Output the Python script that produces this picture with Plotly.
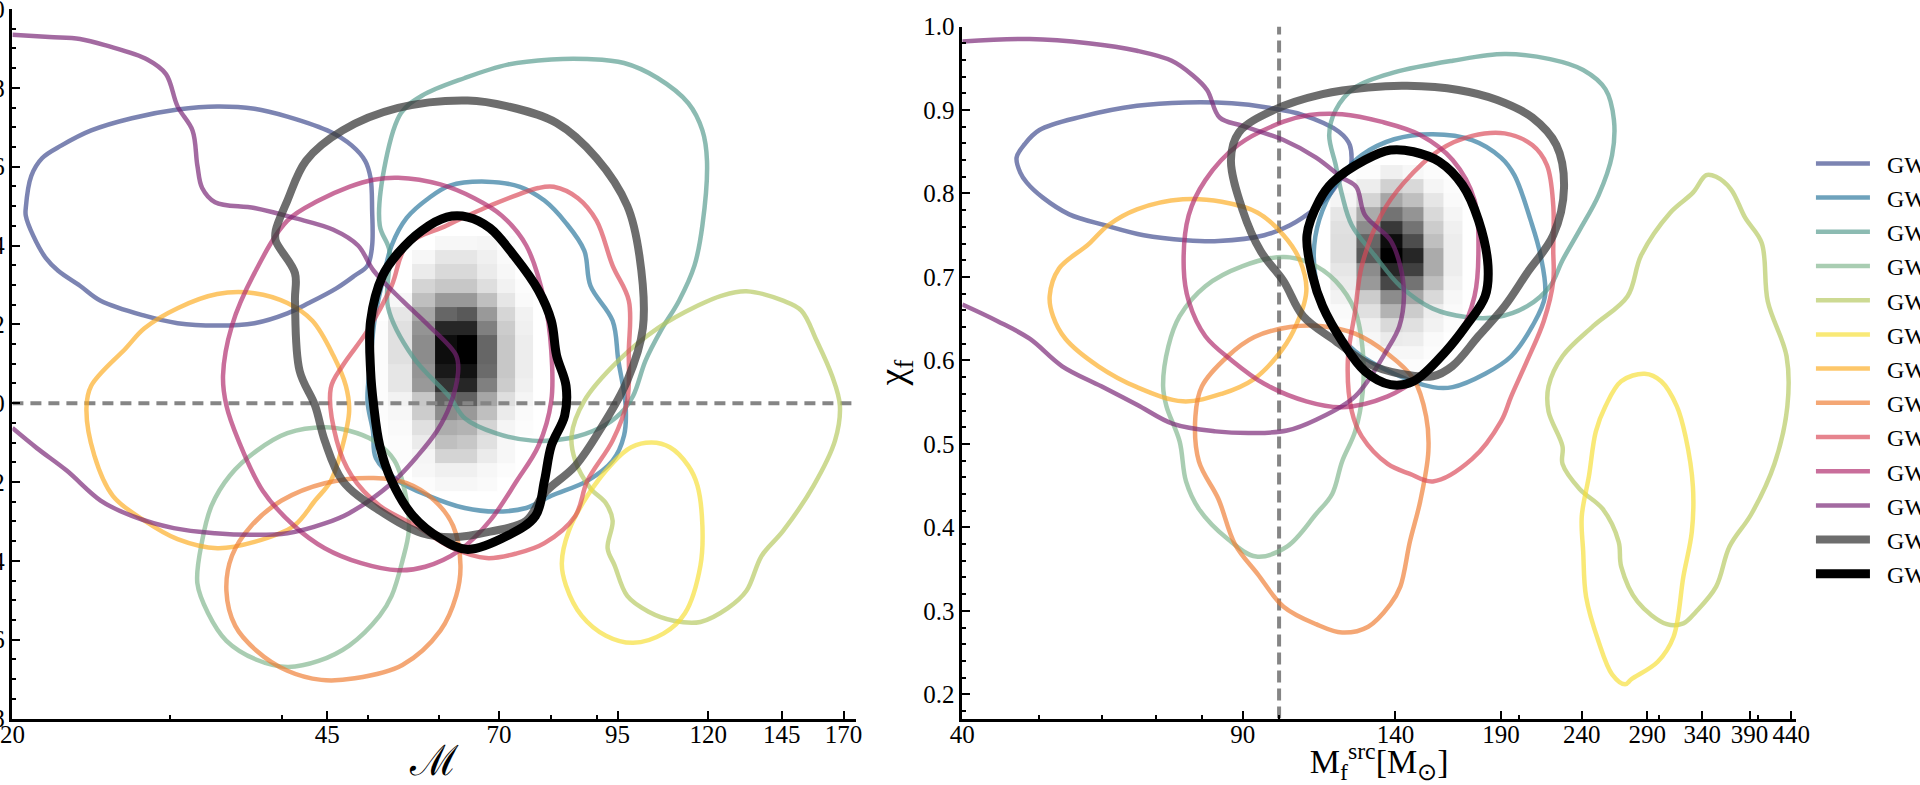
import plotly.graph_objects as go

# colours of the 13 events, same order in both panels
colores = ["#3e4a8e", "#2a769c", "#559b8e", "#80b58e", "#b6c960", "#f6de37", "#fcac23", "#ef7d33", "#da4a58", "#b02a6c", "#772374", "#3c3c3c", "#000000"]
anchos = [4.5, 4.5, 4.5, 4.5, 4.5, 4.5, 4.5, 4.5, 4.5, 4.5, 4.5, 8, 9]
alfas = [0.68, 0.68, 0.68, 0.68, 0.68, 0.68, 0.68, 0.68, 0.68, 0.68, 0.68, 0.75, 1]
nombres = ["\u00a0\u00a0GW"] * 13

# left panel: chirp mass / chi_eff contours
izq_x1 = [20.7, 21.0, 21.6, 22.7, 24.5, 27.2, 30.6, 33.9, 37.3, 40.6, 45.4, 47.9, 49.6, 50.3, 50.5, 50.5, 49.9, 48.3, 46.1, 42.9, 40.6, 37.3, 33.9, 30.6, 28.1, 25.1, 23.8, 22.5, 21.8, 21.1, 20.7]
izq_y1 = [0.495, 0.577, 0.622, 0.654, 0.692, 0.723, 0.745, 0.753, 0.747, 0.727, 0.688, 0.654, 0.615, 0.571, 0.489, 0.4, 0.349, 0.324, 0.292, 0.254, 0.228, 0.203, 0.197, 0.203, 0.222, 0.26, 0.298, 0.336, 0.368, 0.425, 0.476]
izq_x2 = [58.4, 61.7, 67.8, 73.9, 78.7, 83.2, 87.2, 88.6, 93.8, 95.2, 97.0, 96.6, 93.8, 87.9, 80.1, 75.1, 69.4, 64.1, 58.4, 54.0, 51.0, 50.6, 49.9, 50.3, 50.8, 51.9, 53.1, 55.2]
izq_y2 = [0.52, 0.552, 0.562, 0.549, 0.514, 0.457, 0.387, 0.298, 0.209, 0.108, -0.006, -0.082, -0.146, -0.197, -0.235, -0.266, -0.275, -0.266, -0.235, -0.197, -0.14, -0.07, 0.006, 0.108, 0.209, 0.311, 0.4, 0.47]
izq_x3 = [54.4, 57.4, 64.1, 71.6, 80.1, 87.9, 96.6, 105.3, 114.0, 118.2, 119.6, 118.2, 115.8, 111.3, 106.2, 102.1, 98.9, 95.8, 90.7, 83.8, 76.3, 69.4, 64.1, 61.7, 56.1, 52.6, 52.8, 51.5, 52.3]
izq_y3 = [0.736, 0.78, 0.825, 0.859, 0.872, 0.873, 0.863, 0.825, 0.761, 0.692, 0.615, 0.451, 0.349, 0.26, 0.184, 0.108, 0.019, -0.025, -0.063, -0.089, -0.095, -0.076, -0.038, 0.015, 0.117, 0.244, 0.387, 0.451, 0.615]
izq_x4 = [40.6, 44.7, 47.6, 50.7, 53.5, 55.2, 55.5, 54.6, 53.1, 51.5, 47.6, 44.0, 40.6, 37.5, 34.7, 33.1, 32.2, 32.6, 33.4, 35.0, 37.5]
izq_y4 = [-0.076, -0.061, -0.07, -0.095, -0.146, -0.247, -0.324, -0.4, -0.489, -0.539, -0.615, -0.654, -0.669, -0.651, -0.603, -0.533, -0.457, -0.349, -0.26, -0.184, -0.121]
izq_x5 = [132.4, 145.5, 152.5, 158.6, 165.0, 168.4, 166.3, 157.4, 145.5, 137.7, 132.4, 126.2, 117.6, 109.8, 102.9, 97.4, 94.3, 92.6, 93.8, 92.2, 88.6, 85.2, 84.4, 87.2, 95.2, 105.3, 116.7, 124.3]
izq_y5 = [0.284, 0.26, 0.235, 0.159, 0.07, -0.006, -0.095, -0.209, -0.324, -0.387, -0.476, -0.52, -0.555, -0.552, -0.529, -0.489, -0.412, -0.368, -0.298, -0.254, -0.216, -0.146, -0.082, 0.006, 0.108, 0.19, 0.247, 0.273]
izq_x6 = [103.7, 108.7, 114.0, 116.7, 118.2, 117.6, 113.0, 107.0, 98.9, 92.2, 86.6, 83.2, 82.3, 83.8, 87.9, 93.8, 98.4]
izq_y6 = [-0.1, -0.112, -0.159, -0.209, -0.311, -0.412, -0.533, -0.584, -0.608, -0.59, -0.539, -0.463, -0.406, -0.324, -0.235, -0.152, -0.112]
izq_x7 = [33.9, 37.3, 40.6, 43.3, 45.7, 47.2, 47.6, 46.8, 45.4, 43.6, 41.3, 37.3, 33.9, 30.6, 28.1, 25.9, 24.7, 24.2, 24.5, 26.8, 28.1, 30.6]
izq_y7 = [0.277, 0.279, 0.254, 0.209, 0.121, 0.044, -0.019, -0.108, -0.197, -0.247, -0.311, -0.352, -0.368, -0.345, -0.298, -0.235, -0.133, -0.013, 0.044, 0.14, 0.19, 0.241]
izq_x8 = [50.7, 55.2, 59.3, 62.2, 63.4, 62.7, 60.2, 54.6, 48.3, 44.3, 40.6, 37.5, 35.5, 34.7, 35.2, 37.0, 40.0, 44.7]
izq_y8 = [-0.19, -0.203, -0.247, -0.311, -0.412, -0.489, -0.577, -0.664, -0.698, -0.702, -0.679, -0.628, -0.565, -0.476, -0.387, -0.311, -0.247, -0.203]
izq_x9 = [80.6, 85.8, 90.0, 93.8, 97.8, 97.8, 97.4, 93.8, 87.9, 85.2, 78.7, 73.3, 67.8, 62.2, 56.5, 51.5, 47.9, 46.1, 45.4, 46.8, 49.9, 53.1, 55.2, 61.2, 68.4, 77.5]
izq_y9 = [0.549, 0.52, 0.463, 0.349, 0.26, 0.133, 0.006, -0.095, -0.197, -0.286, -0.355, -0.381, -0.393, -0.368, -0.311, -0.26, -0.184, -0.095, 0.038, 0.095, 0.184, 0.298, 0.4, 0.451, 0.501, 0.546]
izq_x10 = [54.0, 60.2, 65.7, 70.5, 75.1, 78.7, 80.1, 80.1, 77.5, 73.3, 68.4, 63.2, 57.9, 54.0, 49.1, 44.7, 41.3, 38.1, 35.8, 34.7, 34.4, 35.2, 37.3, 40.6, 44.0, 47.6, 50.7]
izq_y10 = [0.572, 0.555, 0.52, 0.476, 0.4, 0.26, 0.133, 0.006, -0.108, -0.197, -0.298, -0.374, -0.415, -0.424, -0.406, -0.368, -0.311, -0.222, -0.095, -0.006, 0.07, 0.197, 0.33, 0.463, 0.514, 0.549, 0.567]
izq_x11 = [20.0, 22.0, 23.8, 25.5, 28.3, 29.7, 30.6, 31.8, 32.2, 32.6, 33.7, 37.3, 41.3, 45.7, 48.7, 50.7, 54.6, 58.4, 62.7, 63.0, 61.7, 59.7, 56.8, 53.1, 47.6, 44.7, 40.6, 37.0, 33.7, 30.3, 27.2, 25.1, 23.0, 21.3, 20.0]
izq_y11 = [0.935, 0.929, 0.924, 0.907, 0.872, 0.835, 0.753, 0.692, 0.603, 0.546, 0.51, 0.495, 0.47, 0.44, 0.4, 0.336, 0.26, 0.197, 0.121, 0.076, -0.006, -0.07, -0.133, -0.203, -0.279, -0.305, -0.33, -0.334, -0.33, -0.317, -0.286, -0.247, -0.171, -0.114, -0.063]
izq_x12 = [64.6, 71.6, 81.2, 90.0, 97.4, 100.5, 101.4, 97.4, 91.4, 85.2, 78.7, 75.1, 68.4, 62.2, 57.4, 51.5, 46.8, 44.7, 43.6, 41.9, 41.4, 41.4, 39.4, 39.4, 40.6, 42.6, 46.8, 54.0]
izq_y12 = [0.768, 0.753, 0.711, 0.622, 0.501, 0.374, 0.19, 0.057, -0.057, -0.159, -0.228, -0.298, -0.326, -0.34, -0.33, -0.273, -0.197, -0.095, -0.006, 0.082, 0.26, 0.33, 0.412, 0.438, 0.514, 0.615, 0.692, 0.749]
izq_x13 = [61.2, 64.6, 68.4, 72.8, 77.5, 80.1, 81.2, 83.2, 82.9, 80.1, 78.7, 76.9, 71.6, 64.6, 60.2, 56.1, 53.1, 51.5, 50.7, 50.3, 50.3, 51.9, 54.0, 57.4]
izq_y13 = [0.472, 0.472, 0.444, 0.374, 0.286, 0.209, 0.121, 0.044, -0.032, -0.108, -0.197, -0.286, -0.336, -0.371, -0.343, -0.286, -0.197, -0.108, -0.006, 0.082, 0.209, 0.324, 0.381, 0.438]

# right panel: final mass / final spin contours
der_x1 = [46.8, 47.9, 50.0, 56.5, 66.3, 76.4, 87.2, 96.6, 107.2, 118.9, 122.7, 122.7, 120.0, 115.6, 111.3, 103.2, 95.8, 83.9, 76.4, 67.6, 60.4, 54.5, 50.5, 48.2, 47.3]
der_y1 = [0.843, 0.859, 0.876, 0.892, 0.905, 0.909, 0.908, 0.903, 0.894, 0.874, 0.858, 0.828, 0.819, 0.798, 0.783, 0.762, 0.75, 0.743, 0.744, 0.75, 0.762, 0.775, 0.795, 0.813, 0.825]
der_x2 = [156.0, 174.8, 190.0, 197.5, 207.0, 213.0, 215.8, 208.0, 195.7, 181.5, 165.2, 156.0, 139.5, 124.6, 115.6, 111.3, 110.7, 113.4, 120.0, 127.0, 139.5]
der_y2 = [0.871, 0.864, 0.843, 0.822, 0.768, 0.726, 0.677, 0.641, 0.605, 0.584, 0.568, 0.568, 0.584, 0.611, 0.647, 0.695, 0.738, 0.78, 0.822, 0.846, 0.865]
der_x3 = [139.5, 165.2, 192.0, 219.0, 241.0, 257.0, 263.4, 262.0, 252.0, 238.5, 227.0, 219.0, 205.0, 188.0, 171.6, 156.0, 142.0, 131.8, 123.4, 120.0, 117.8, 115.6, 117.8, 124.6]
der_y3 = [0.945, 0.959, 0.967, 0.961, 0.948, 0.925, 0.888, 0.846, 0.798, 0.756, 0.72, 0.689, 0.665, 0.652, 0.652, 0.662, 0.689, 0.726, 0.762, 0.798, 0.834, 0.87, 0.9, 0.927]
der_x4 = [101.3, 109.2, 117.8, 124.6, 127.4, 127.4, 124.6, 120.0, 116.6, 111.3, 102.3, 93.6, 86.2, 79.3, 76.4, 75.0, 72.2, 71.5, 72.6, 75.0, 80.8, 90.0]
der_y4 = [0.724, 0.717, 0.695, 0.659, 0.611, 0.563, 0.515, 0.479, 0.44, 0.416, 0.377, 0.365, 0.386, 0.422, 0.455, 0.503, 0.545, 0.569, 0.617, 0.653, 0.689, 0.713]
der_x5 = [344, 354, 369.5, 385, 403.8, 411, 434, 435, 419, 392, 368, 354, 334, 322, 307, 282, 269, 267, 255, 238.5, 227, 227, 218, 218, 227, 248, 274, 285, 310, 331]
der_y5 = [0.822, 0.82, 0.805, 0.771, 0.741, 0.671, 0.605, 0.545, 0.476, 0.416, 0.377, 0.329, 0.299, 0.285, 0.284, 0.311, 0.353, 0.383, 0.422, 0.446, 0.476, 0.497, 0.539, 0.569, 0.605, 0.641, 0.677, 0.726, 0.777, 0.801]
der_x6 = [288, 302, 316, 324, 331, 330, 322, 313, 299, 277, 272, 262, 252, 243, 241, 240, 245, 250, 257, 269]
der_y6 = [0.584, 0.575, 0.545, 0.509, 0.449, 0.395, 0.341, 0.269, 0.239, 0.218, 0.212, 0.224, 0.263, 0.317, 0.371, 0.413, 0.461, 0.515, 0.545, 0.575]
der_x7 = [75.7, 84.7, 94.0, 101.3, 106.2, 108.2, 104.2, 99.4, 93.1, 84.7, 75.7, 66.3, 59.3, 53.9, 52.0, 51.5, 52.9, 57.6, 61.0, 66.3]
der_y7 = [0.793, 0.79, 0.777, 0.75, 0.72, 0.683, 0.635, 0.605, 0.578, 0.56, 0.551, 0.568, 0.593, 0.626, 0.653, 0.677, 0.71, 0.739, 0.762, 0.781]
der_x8 = [103.2, 113.4, 124.6, 136.9, 147.5, 153.0, 154.0, 150.4, 146.0, 142.0, 138.0, 129.4, 120.0, 111.3, 101.3, 94.0, 88.0, 83.9, 79.3, 78.5, 80.0, 86.2, 93.1]
der_y8 = [0.64, 0.641, 0.632, 0.608, 0.578, 0.533, 0.491, 0.431, 0.383, 0.329, 0.308, 0.281, 0.274, 0.284, 0.305, 0.344, 0.38, 0.434, 0.479, 0.533, 0.569, 0.605, 0.628]
der_x9 = [192, 208, 217, 221, 221, 221, 215, 205, 195.7, 190, 174.8, 156, 146, 136.9, 127, 123.4, 122, 124.6, 127, 134.3, 143.5, 159, 174.8]
der_y9 = [0.872, 0.858, 0.834, 0.786, 0.732, 0.695, 0.647, 0.6, 0.557, 0.527, 0.482, 0.455, 0.464, 0.476, 0.509, 0.539, 0.6, 0.659, 0.713, 0.774, 0.813, 0.852, 0.869]
der_x10 = [120, 134.3, 150.4, 165.2, 176, 178, 176, 168, 150.4, 136.9, 120, 108.2, 95.8, 87.2, 80.8, 77, 75.9, 77, 80.8, 88.8, 101.3, 109.2]
der_y10 = [0.895, 0.886, 0.87, 0.84, 0.792, 0.732, 0.677, 0.629, 0.581, 0.557, 0.544, 0.551, 0.572, 0.6, 0.629, 0.671, 0.71, 0.774, 0.816, 0.858, 0.886, 0.894]
der_x11 = [40, 48.6, 57.6, 66.3, 73.3, 77.8, 81.2, 84.2, 90, 101.3, 111.3, 120, 125, 128.2, 138, 142, 143.5, 141.6, 136.9, 124.6, 111.3, 102.3, 93.1, 83.2, 73.6, 66.3, 59.8, 53.4, 48.6, 44.3, 40]
der_y11 = [0.982, 0.985, 0.98, 0.971, 0.959, 0.942, 0.924, 0.891, 0.881, 0.864, 0.843, 0.819, 0.808, 0.774, 0.744, 0.713, 0.677, 0.641, 0.614, 0.557, 0.529, 0.516, 0.513, 0.515, 0.524, 0.547, 0.569, 0.593, 0.626, 0.647, 0.667]
der_x12 = [144.8, 168, 188, 208, 223, 228, 221, 205, 192, 178, 165, 156, 142, 129.4, 117.8, 107.2, 101.3, 94.8, 90, 87, 89, 98.5, 113.4, 129.4]
der_y12 = [0.929, 0.924, 0.912, 0.891, 0.858, 0.807, 0.75, 0.705, 0.665, 0.629, 0.593, 0.581, 0.584, 0.596, 0.623, 0.653, 0.695, 0.731, 0.78, 0.84, 0.873, 0.9, 0.919, 0.927]
der_x13 = [138, 147.5, 159, 170, 178, 183, 181.5, 171.6, 162, 147.5, 138, 128.2, 120, 113.4, 110.2, 108.4, 112.4, 116.6, 128.2]
der_y13 = [0.852, 0.85, 0.838, 0.81, 0.768, 0.713, 0.677, 0.641, 0.611, 0.575, 0.571, 0.587, 0.623, 0.665, 0.701, 0.75, 0.792, 0.813, 0.84]

# greyscale histograms behind the black contour, rows from the top down
izq_hx = [49.2, 52.6, 56.0, 59.4, 62.8, 66.2, 69.6, 73.0, 76.4]
izq_hy = [0.424, 0.388, 0.352, 0.316, 0.28, 0.244, 0.208, 0.172, 0.136, 0.1, 0.064, 0.028, -0.008, -0.044, -0.08, -0.116, -0.152, -0.188, -0.224]
izq_hz = [
    [0, 0, 0, 0.03, 0.03, 0.04, 0.01, 0],
    [0, 0, 0.03, 0.1, 0.1, 0.06, 0.02, 0],
    [0, 0, 0.08, 0.15, 0.15, 0.08, 0.03, 0],
    [0, 0, 0.17, 0.22, 0.22, 0.13, 0.05, 0.01],
    [0, 0.03, 0.25, 0.4, 0.4, 0.25, 0.1, 0.02],
    [0, 0.1, 0.35, 0.6, 0.65, 0.4, 0.16, 0.05],
    [0.01, 0.12, 0.42, 0.85, 0.85, 0.5, 0.2, 0.06],
    [0.01, 0.12, 0.45, 0.95, 1.0, 0.6, 0.22, 0.07],
    [0.01, 0.12, 0.45, 0.95, 1.0, 0.6, 0.22, 0.07],
    [0.01, 0.1, 0.42, 0.9, 0.93, 0.58, 0.22, 0.07],
    [0.01, 0.1, 0.4, 0.8, 0.85, 0.5, 0.2, 0.06],
    [0.01, 0.05, 0.22, 0.6, 0.62, 0.35, 0.13, 0.04],
    [0.01, 0.03, 0.2, 0.45, 0.4, 0.25, 0.08, 0.02],
    [0, 0.02, 0.12, 0.32, 0.3, 0.17, 0.04, 0.01],
    [0, 0.01, 0.08, 0.25, 0.22, 0.12, 0.03, 0],
    [0, 0.01, 0.04, 0.17, 0.17, 0.08, 0.03, 0],
    [0, 0, 0.03, 0.06, 0.06, 0.03, 0.01, 0],
    [0, 0, 0.01, 0.03, 0.03, 0.02, 0, 0],
]
der_hx = [116, 125, 134, 143, 152, 161, 170]
der_hy = [0.834, 0.817, 0.801, 0.784, 0.767, 0.751, 0.734, 0.717, 0.701, 0.684, 0.667, 0.651, 0.634, 0.617, 0.601, 0.584]
der_hz = [
    [0, 0.01, 0.06, 0.03, 0.01, 0],
    [0.02, 0.07, 0.18, 0.15, 0.04, 0.01],
    [0.04, 0.17, 0.35, 0.25, 0.1, 0.02],
    [0.1, 0.33, 0.55, 0.42, 0.15, 0.04],
    [0.12, 0.45, 0.78, 0.55, 0.2, 0.06],
    [0.13, 0.6, 0.95, 0.7, 0.25, 0.07],
    [0.13, 0.65, 1.0, 0.85, 0.33, 0.07],
    [0.1, 0.45, 0.85, 0.75, 0.33, 0.07],
    [0.08, 0.4, 0.72, 0.55, 0.25, 0.05],
    [0.05, 0.2, 0.45, 0.35, 0.15, 0.03],
    [0.02, 0.12, 0.3, 0.2, 0.07, 0.02],
    [0.01, 0.06, 0.15, 0.12, 0.05, 0.01],
    [0, 0.03, 0.08, 0.07, 0.02, 0],
    [0, 0.01, 0.03, 0.03, 0.01, 0],
    [0, 0, 0.01, 0.01, 0, 0],
]

izq_contornos = [(izq_x1, izq_y1), (izq_x2, izq_y2), (izq_x3, izq_y3), (izq_x4, izq_y4), (izq_x5, izq_y5), (izq_x6, izq_y6), (izq_x7, izq_y7), (izq_x8, izq_y8), (izq_x9, izq_y9), (izq_x10, izq_y10), (izq_x11, izq_y11), (izq_x12, izq_y12), (izq_x13, izq_y13)]
der_contornos = [(der_x1, der_y1), (der_x2, der_y2), (der_x3, der_y3), (der_x4, der_y4), (der_x5, der_y5), (der_x6, der_y6), (der_x7, der_y7), (der_x8, der_y8), (der_x9, der_y9), (der_x10, der_y10), (der_x11, der_y11), (der_x12, der_y12), (der_x13, der_y13)]

# ticks
izq_xt = [20, 45, 70, 95, 120, 145, 170]
izq_xm = [30, 40, 50, 60, 80, 90]
izq_yt = [1.0, 0.8, 0.6, 0.4, 0.2, 0.0, -0.2, -0.4, -0.6, -0.8]
izq_ytxt = ["1.0", "0.8", "0.6", "0.4", "0.2", "0.0", "-0.2", "-0.4", "-0.6", "-0.8"]
izq_ym = [0.95, 0.9, 0.85, 0.75, 0.7, 0.65, 0.55, 0.5, 0.45, 0.35, 0.3, 0.25, 0.15, 0.1, 0.05, -0.05, -0.1, -0.15, -0.25, -0.3, -0.35, -0.45, -0.5, -0.55, -0.65, -0.7, -0.75]
der_xt = [40, 90, 140, 190, 240, 290, 340, 390, 440]
der_xm = [50, 60, 70, 80, 100, 200, 300, 400]
der_yt = [1.0, 0.9, 0.8, 0.7, 0.6, 0.5, 0.4, 0.3, 0.2]
der_ym = [0.98, 0.96, 0.94, 0.92, 0.88, 0.86, 0.84, 0.82, 0.78, 0.76, 0.74, 0.72, 0.68, 0.66, 0.64, 0.62, 0.58, 0.56, 0.54, 0.52, 0.48, 0.46, 0.44, 0.42, 0.38, 0.36, 0.34, 0.32, 0.28, 0.26, 0.24, 0.22, 0.18]

gris_pal = [[0, "#ffffff"], [1, "#000000"]]

fig = go.Figure()

fig.add_trace(go.Heatmap(x=izq_hx, y=izq_hy[::-1], z=izq_hz[::-1], colorscale=gris_pal, zmin=0, zmax=1, showscale=False, hoverinfo="skip", xaxis="x", yaxis="y"))
fig.add_trace(go.Heatmap(x=der_hx, y=der_hy[::-1], z=der_hz[::-1], colorscale=gris_pal, zmin=0, zmax=1, showscale=False, hoverinfo="skip", xaxis="x2", yaxis="y2"))

# dashed reference lines
fig.add_trace(go.Scatter(x=[20, 175], y=[0, 0], mode="lines", showlegend=False, line=dict(color="#858585", width=4, dash="11px,7px"), xaxis="x", yaxis="y"))
fig.add_trace(go.Scatter(x=[100, 100], y=[0.171, 1.0], mode="lines", showlegend=False, line=dict(color="#858585", width=4, dash="12px,6px"), xaxis="x2", yaxis="y2"))


def rgba(hexa, a):
    r, g, b = int(hexa[1:3], 16), int(hexa[3:5], 16), int(hexa[5:7], 16)
    return f"rgba({r},{g},{b},{a})"


for i in range(13):
    xs, ys = izq_contornos[i]
    # the purple one leaves through the axis, the others close on themselves
    if i != 10:
        xs, ys = xs + xs[:1], ys + ys[:1]
    fig.add_trace(go.Scatter(x=xs, y=ys, mode="lines", name=nombres[i],
                             line=dict(color=rgba(colores[i], alfas[i]), width=anchos[i], shape="spline", smoothing=1),
                             xaxis="x", yaxis="y"))
for i in range(13):
    xs, ys = der_contornos[i]
    if i != 10:
        xs, ys = xs + xs[:1], ys + ys[:1]
    fig.add_trace(go.Scatter(x=xs, y=ys, mode="lines", name=nombres[i], showlegend=False,
                             line=dict(color=rgba(colores[i], alfas[i]), width=anchos[i], shape="spline", smoothing=1),
                             xaxis="x2", yaxis="y2"))

fuente = dict(family="Liberation Serif", size=25, color="black")
eje = dict(showgrid=False, zeroline=False, showline=True, linecolor="black", linewidth=2.5, automargin=False,
           ticks="inside", ticklen=8, tickwidth=2, tickcolor="black", tickfont=fuente, ticklabeloverflow="allow")
menor = dict(ticks="inside", ticklen=4, tickwidth=2, tickcolor="black", tickmode="array", showgrid=False)

fig.update_layout(
    width=1920,
    height=785,
    margin=dict(l=0, r=0, t=0, b=0, autoexpand=False),
    plot_bgcolor="white",
    paper_bgcolor="white",
    font=dict(family="Liberation Serif", color="black"),
    xaxis=dict(eje, type="log", domain=[0.00646, 0.4458], range=[1.30103, 2.2443], anchor="y",
               tickmode="array", tickvals=izq_xt, ticktext=[str(v) for v in izq_xt], ticklabelstandoff=-8,
               minor=dict(menor, tickvals=izq_xm),
               title=dict(text="ℳ", font=dict(family="DejaVu Serif", size=42), standoff=12)),
    yaxis=dict(eje, domain=[0.0847, 0.9885], range=[-0.8, 1.0], anchor="x",
               tickmode="array", tickvals=izq_yt, ticktext=izq_ytxt,
               minor=dict(menor, tickvals=izq_ym)),
    xaxis2=dict(eje, type="log", domain=[0.5012, 0.9354], range=[1.60206, 2.6493], anchor="y2",
                tickmode="array", tickvals=der_xt, ticktext=[str(v) for v in der_xt], ticklabelstandoff=-8,
                minor=dict(menor, tickvals=der_xm),
                title=dict(text="M<sub>f</sub><sup>src</sup>[M<sub>⊙</sub>]", font=dict(family="Liberation Serif", size=34), standoff=12)),
    yaxis2=dict(eje, domain=[0.0847, 0.9662], range=[0.171, 1.0], anchor="x2",
                tickmode="array", tickvals=der_yt, ticktext=[f"{v:.1f}" for v in der_yt],
                minor=dict(menor, tickvals=der_ym),
                title=dict(text="χ<sub>f</sub>", font=dict(family="Liberation Serif", size=38), standoff=6)),
    legend=dict(x=0.9432, y=0.82, xanchor="left", yanchor="top", bgcolor="rgba(0,0,0,0)",
                font=dict(family="Liberation Serif", size=24, color="black"),
                itemwidth=54, tracegroupgap=0),
)

fig.write_html("out.html", post_script="document.body.style.margin='0';", config=dict(displayModeBar=False))
